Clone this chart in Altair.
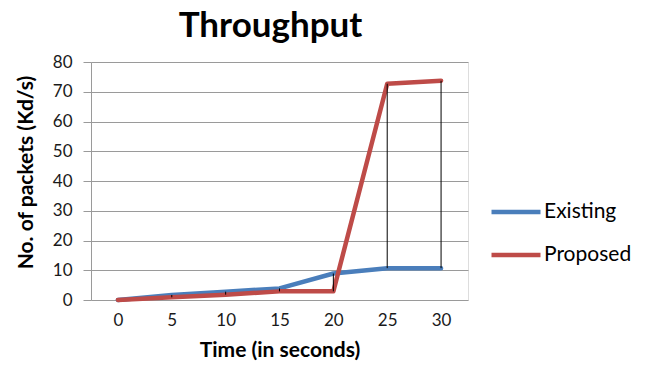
import altair as alt
import pandas as pd

times = [0, 5, 10, 15, 20, 25, 30]
existing = [0, 1.7, 2.8, 3.9, 8.9, 10.7, 10.7]
proposed = [0, 0.9, 1.8, 2.9, 2.9, 72.7, 73.7]
series_names = ["Existing", "Proposed"]
series_colors = ["#4a7ebb", "#be4b48"]
y_ticks = [0, 10, 20, 30, 40, 50, 60, 70, 80]

long_rows = []
for name, vals in zip(series_names, [existing, proposed]):
    for t, v in zip(times, vals):
        long_rows.append({"Time": t, "Value": v, "Series": name})
df_long = pd.DataFrame(long_rows)

df_wide = pd.DataFrame({
    "Time": times,
    "Low": [min(a, b) for a, b in zip(existing, proposed)],
    "High": [max(a, b) for a, b in zip(existing, proposed)],
})

FONT = "Lato"

x_scale = alt.Scale(type="point", padding=0.5)
y_scale = alt.Scale(domain=[0, 80], nice=False)

x_axis = alt.Axis(
    title="Time (in seconds)",
    labelAngle=0,
    ticks=False,
    domain=False,
    labelPadding=12,
    labelFontSize=17,
    labelFont=FONT,
    labelColor="#1a1a1a",
    titleFont=FONT,
    titleFontSize=21,
    titleFontWeight="bold",
    titleColor="#000000",
    titlePadding=11,
    grid=False,
)

y_axis = alt.Axis(
    title="No. of packets (Kd/s)",
    values=y_ticks,
    tickSize=8,
    tickColor="#9a9a9a",
    domainColor="#9a9a9a",
    gridColor="#9a9a9a",
    grid=True,
    labelPadding=11,
    labelFontSize=17,
    labelFont=FONT,
    labelColor="#1a1a1a",
    labelOverlap=False,
    titleFont=FONT,
    titleFontSize=21,
    titleFontWeight="bold",
    titleColor="#000000",
    titlePadding=16,
    titleY=110,
)

lines = alt.Chart(df_long).mark_line(
    strokeWidth=4.5, strokeJoin="round", strokeCap="round"
).encode(
    x=alt.X("Time:O", scale=x_scale, axis=x_axis),
    y=alt.Y("Value:Q", scale=y_scale, axis=y_axis),
    color=alt.Color(
        "Series:N",
        scale=alt.Scale(domain=series_names, range=series_colors),
        legend=alt.Legend(
            title=None,
            orient="none",
            legendX=398,
            legendY=123,
            symbolType="stroke",
            symbolSize=2400,
            symbolStrokeWidth=4.5,
            labelFont=FONT,
            labelFontSize=21,
            labelColor="#000000",
            labelOffset=1,
            rowPadding=6,
            padding=0,
        ),
    ),
    order=alt.Order("Time:O"),
)

rules = alt.Chart(df_wide).mark_rule(color="#000000", strokeWidth=1).encode(
    x=alt.X("Time:O", scale=x_scale, axis=x_axis),
    y=alt.Y("Low:Q", scale=y_scale, axis=y_axis),
    y2="High:Q",
)

chart = alt.layer(lines, rules).properties(
    width=377,
    height=238,
    title=alt.Title(
        "Throughput",
        font=FONT,
        fontSize=35,
        fontWeight="bold",
        color="#000000",
        anchor="middle",
        dx=-9,
        offset=9,
    ),
    autosize=alt.AutoSizeParams(type="none"),
    padding={"left": 91, "top": 62, "right": 178, "bottom": 69},
).configure_view(stroke=None).configure(background="white")

chart.save("out.html", embed_options={"renderer": "svg", "actions": False})
